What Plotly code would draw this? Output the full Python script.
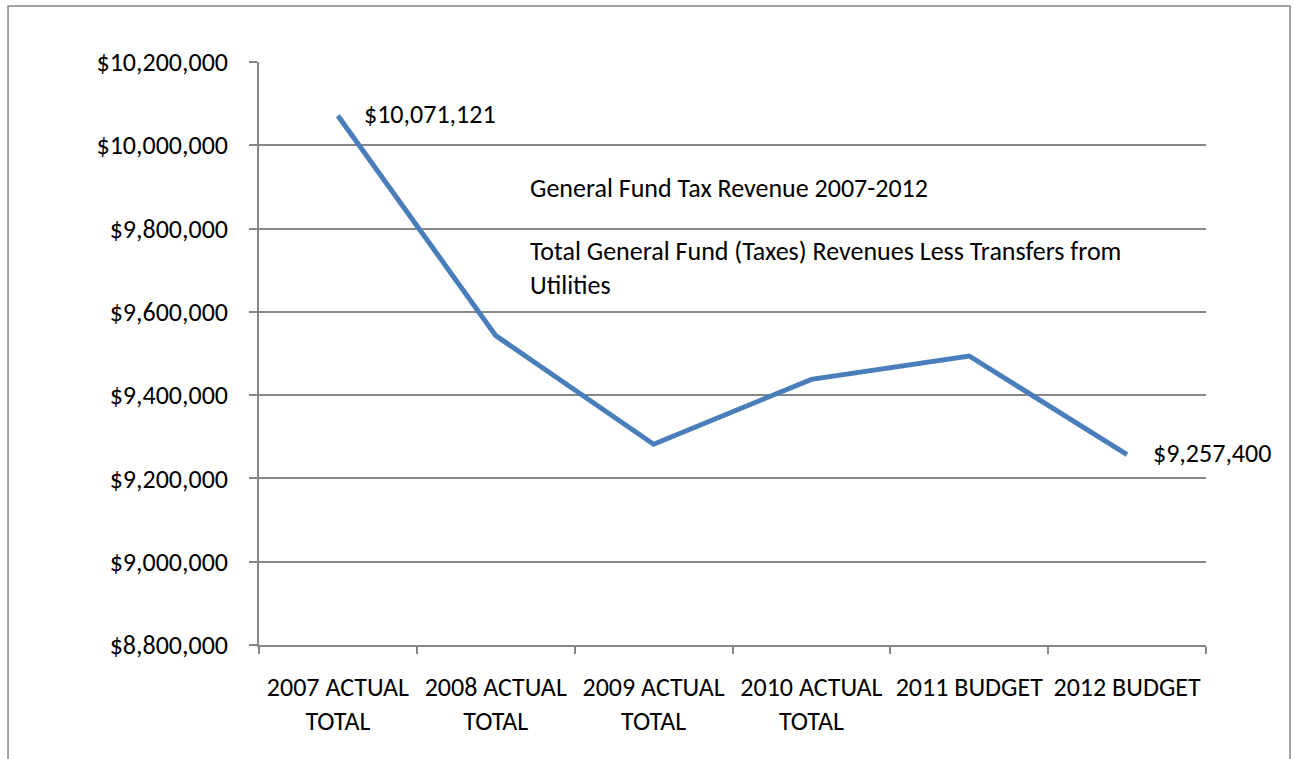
import plotly.graph_objects as go

categories = ["2007 ACTUAL<br>TOTAL", "2008 ACTUAL<br>TOTAL", "2009 ACTUAL<br>TOTAL",
              "2010 ACTUAL<br>TOTAL", "2011 BUDGET", "2012 BUDGET"]
revenue = [10071121, 9543000, 9282000, 9438000, 9494000, 9257400]
y_ticks = [8800000, 9000000, 9200000, 9400000, 9600000, 9800000, 10000000, 10200000]
y_tick_labels = ["$8,800,000", "$9,000,000", "$9,200,000", "$9,400,000",
                 "$9,600,000", "$9,800,000", "$10,000,000", "$10,200,000"]
title_main = "General Fund Tax Revenue 2007-2012"
title_sub = "Total General Fund (Taxes) Revenues Less Transfers from<br>Utilities"

FONT = "Carlito, Calibri, Lato, sans-serif"
FS = 26
GRID = "#878787"
TXT = "#000000"

fig = go.Figure()
fig.add_trace(go.Scatter(
    x=categories, y=revenue, mode="lines",
    line=dict(color="#4A7EBB", width=5),
    hoverinfo="skip", showlegend=False,
))

# value labels on first and last points
for idx in (0, len(revenue) - 1):
    fig.add_annotation(
        x=categories[idx], y=revenue[idx], xref="x", yref="y",
        text="${:,.0f}".format(revenue[idx]), showarrow=False,
        xanchor="left", yanchor="middle", xshift=24, yshift=2,
        font=dict(family=FONT, size=FS, color=TXT),
    )

fig.add_annotation(x=0.284, y=0.784, xref="paper", yref="paper", text=title_main,
                   showarrow=False, xanchor="left", yanchor="middle", align="left",
                   font=dict(family=FONT, size=FS, color=TXT))
fig.add_annotation(x=0.284, y=0.647, xref="paper", yref="paper", text=title_sub,
                   showarrow=False, xanchor="left", yanchor="middle", align="left",
                   font=dict(family=FONT, size=FS, color=TXT))

# outer chart frame
fig.add_shape(type="rect", xref="paper", yref="paper",
              x0=-0.265, x1=1.0887, y0=-0.35, y1=1.096,
              line=dict(color=GRID, width=1.5), layer="below")

fig.update_xaxes(
    showline=True, linecolor=GRID, linewidth=1.5,
    ticks="outside", ticklen=7, tickcolor=GRID, tickwidth=1.5,
    tickson="boundaries", showgrid=False,
    tickfont=dict(family=FONT, size=FS, color=TXT), ticklabelstandoff=18,
    range=[-0.5, 5.5], fixedrange=True,
)
fig.update_yaxes(
    range=[8800000, 10200000], tickvals=y_ticks, ticktext=y_tick_labels,
    showline=True, linecolor=GRID, linewidth=1.5,
    ticks="outside", ticklen=8, tickcolor=GRID, tickwidth=1.5,
    showgrid=True, gridcolor=GRID, gridwidth=1.5, zeroline=False,
    tickfont=dict(family=FONT, size=FS, color=TXT), ticklabelstandoff=16,
)
fig.update_layout(
    width=1294, height=759,
    margin=dict(l=259, r=88, t=62, b=114),
    paper_bgcolor="white", plot_bgcolor="white",
)
fig.write_html("out.html")
